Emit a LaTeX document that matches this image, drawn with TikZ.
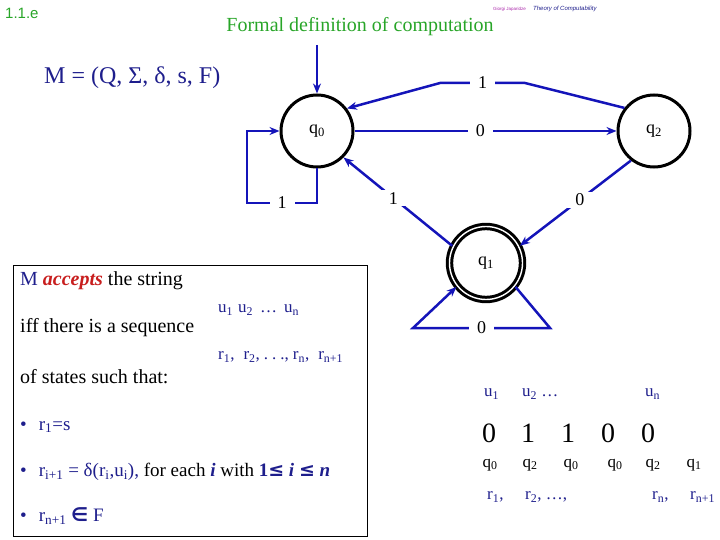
\documentclass[tikz,border=0pt]{standalone}
\usepackage{fontspec}
\setmainfont{Liberation Serif}
\setsansfont{Liberation Sans}
\newfontfamily\symfont{DejaVu Sans}
\usetikzlibrary{arrows.meta}

\definecolor{titlegreen}{RGB}{40,165,40}
\definecolor{edgeblue}{RGB}{20,20,185}
\definecolor{navy}{RGB}{30,30,140}
\definecolor{accred}{RGB}{200,30,30}
\definecolor{authpurple}{RGB}{170,40,170}

\newcommand{\sbs}[1]{\textsubscript{#1}}
\newcommand{\fsz}[1]{\fontsize{#1}{#1}\selectfont}

\begin{document}
\begin{tikzpicture}[
    x=1pt, y=-1pt,
    state/.style={
        draw,
        circle,
        line width=3pt,
        minimum size=72pt,
        inner sep=0pt,
        font=\fsz{18},
    },
    accept/.style={
        state,
        line width=3pt,
        double=white,
        double distance=1.4pt,
        minimum size=73pt,
    },
    arrow/.style={
        -{Stealth[length=10pt,width=8pt]},
        line width=2.5pt,
        draw=edgeblue,
    },
    lbl/.style={
        fill=white,
        inner xsep=8pt,
        inner ysep=2pt,
        font=\fsz{18},
    },
    txt/.style={
        anchor=west,
        inner sep=0pt,
        font=\fsz{20},
    },
    seq/.style={
        anchor=west,
        inner sep=0pt,
        text=navy,
        font=\fsz{17},
    },
    big/.style={
        inner sep=0pt,
        font=\fsz{28},
    },
    small/.style={
        inner sep=0pt,
        font=\fsz{17},
    },
]
    \useasboundingbox (0,0) rectangle (720,540);

    % header
    \node[anchor=west, inner sep=0pt, text=titlegreen, font=\sffamily\fsz{15}] (sect) at (5,13) {1.1.e};
    \node[inner sep=0pt, text=titlegreen, font=\fsz{20}] (title) at (360,27) {Formal definition of computation};
    \node[anchor=west, inner sep=0pt, text=authpurple, font=\sffamily\fsz{4.5}] (author) at (493,9) {Giorgi Japaridze};
    \node[anchor=west, inner sep=0pt, text=navy, font=\sffamily\itshape\fsz{6}] (course) at (533,9) {Theory of Computability};
    \node[anchor=west, inner sep=0pt, text=navy, font=\fsz{24}] (tuple) at (44,78) {M = (Q, Σ, δ, s, F)};

    % automaton
    \node[state] (q0) at (317,131) {q\sbs{0}};
    \node[state] (q2) at (654,131) {q\sbs{2}};
    \node[accept] (q1) at (486,263) {q\sbs{1}};

    \coordinate (start) at (317,45);
    \coordinate (t1r) at (525,83);
    \coordinate (t1l) at (440,83);
    \coordinate (l0a) at (317,203);
    \coordinate (l0b) at (247,203);
    \coordinate (l0c) at (247,131);
    \coordinate (l1r) at (550,328);
    \coordinate (l1l) at (413,328);

    \draw[arrow] (start) -- (q0);
    \draw[arrow] (q2.142) -- (t1r) -- node[lbl] {1} (t1l) -- (q0.37);
    \draw[arrow] (q0) -- node[lbl, pos=0.48] {0} (q2);
    \draw[arrow] (q0.south) -- (l0a) -- node[lbl] {1} (l0b) -- (l0c) -- (q0.west);
    \draw[arrow] (q1.153) -- node[lbl, pos=0.54] {1} (q0.-45);
    \draw[arrow] (q2.232) -- node[lbl, pos=0.46] {0} (q1.27);
    \draw[arrow] (q1.321) -- (l1r) -- node[lbl] {0} (l1l) -- (q1.219);

    % definition box
    \draw[line width=0.8pt] (13,265) rectangle (367,536);
    \node[txt] (accepts) at (20,281) {\textcolor{navy}{M} \textcolor{accred}{\bfseries\itshape accepts} the string};
    \node[txt] (iff) at (20,328) {iff there is a sequence};
    \node[txt] (ofst) at (20,377) {of states such that:};
    \node[seq] (useq) at (218,310) {u\sbs{1}\hspace{5pt}u\sbs{2}\hspace{7pt}…\hspace{7pt}u\sbs{n}};
    \node[seq] (rseq) at (218,357) {r\sbs{1},\hspace{9pt}r\sbs{2},\hspace{4pt}.\hspace{4pt}.\hspace{4pt}.,\hspace{4pt}r\sbs{n},\hspace{9pt}r\sbs{n+1}};
    \node[txt, text=navy, font=\fsz{19}] (b1) at (20,427) {•\hspace{12pt}r\sbs{1}=s};
    \node[txt, text=navy, font=\fsz{19}] (b2) at (20,472) {•\hspace{12pt}r\sbs{i+1} = δ(r\sbs{i},u\sbs{i}), \textcolor{black}{for each} \textbf{\textit{i}} \textcolor{black}{with} \textbf{1{\symfont ≤} \textit{i} {\symfont ≤} \textit{n}}};
    \node[txt, text=navy, font=\fsz{19}] (b3) at (20,516) {•\hspace{12pt}r\sbs{n+1} {\symfont\bfseries ∈} F};

    % example run
    \node[seq] (u1) at (484,394) {u\sbs{1}};
    \node[seq] (u2) at (522,394) {u\sbs{2} …};
    \node[seq] (un) at (645,394) {u\sbs{n}};

    \node[big] (d1) at (489,433) {0};
    \node[big] (d2) at (528,433) {1};
    \node[big] (d3) at (568,433) {1};
    \node[big] (d4) at (608,433) {0};
    \node[big] (d5) at (648,433) {0};

    \node[small] (s1) at (490,465) {q\sbs{0}};
    \node[small] (s2) at (530,465) {q\sbs{2}};
    \node[small] (s3) at (571,465) {q\sbs{0}};
    \node[small] (s4) at (615,465) {q\sbs{0}};
    \node[small] (s5) at (653,465) {q\sbs{2}};
    \node[small] (s6) at (694,465) {q\sbs{1}};

    \node[seq] (r1) at (487,497) {r\sbs{1},};
    \node[seq] (r2) at (525,497) {r\sbs{2}, …,};
    \node[seq] (rn) at (652,497) {r\sbs{n},};
    \node[seq] (rn1) at (690,497) {r\sbs{n+1}};

\end{tikzpicture}
\end{document}
